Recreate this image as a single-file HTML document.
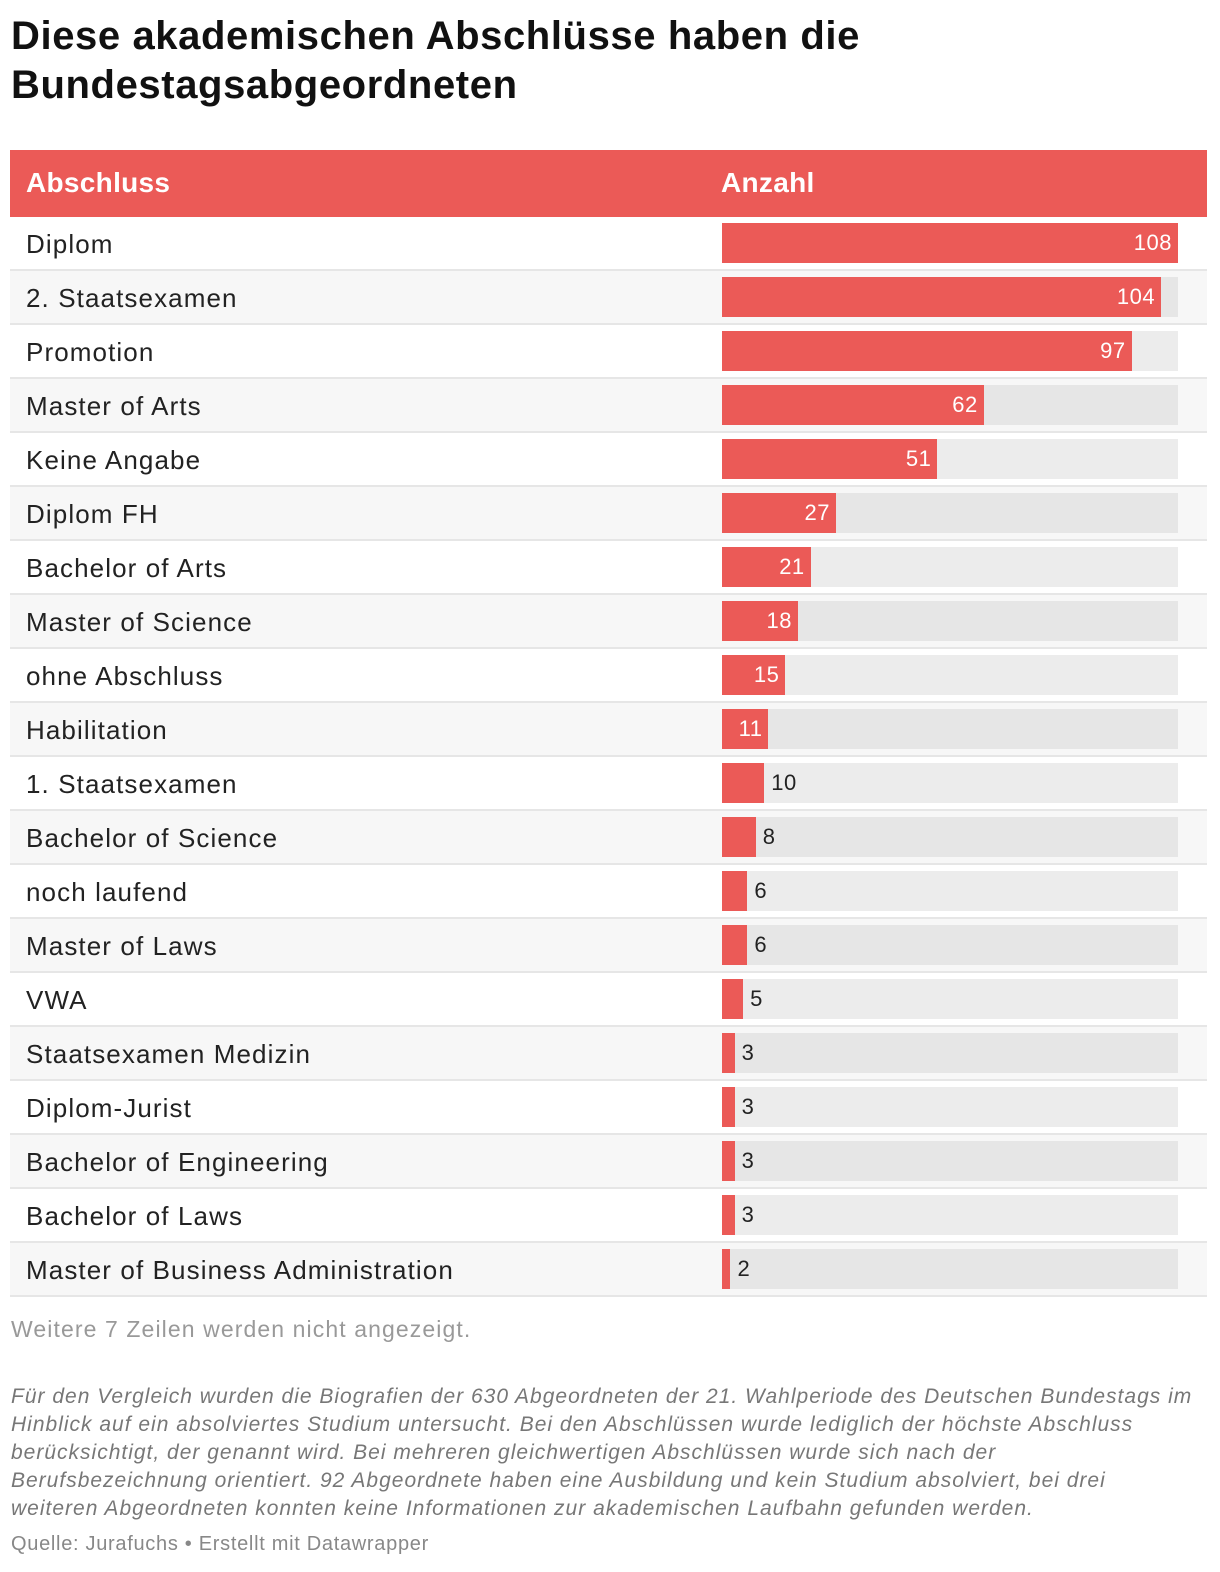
<!DOCTYPE html>
<html><head><meta charset="utf-8"><style>
body{margin:0;width:1220px;height:1572px;background:#fff;font-family:"Liberation Sans",sans-serif;position:relative;overflow:hidden}
h1{position:absolute;left:11px;top:12px;margin:0;font-size:40px;line-height:49px;font-weight:bold;color:#111;letter-spacing:0.6px}
#hdr{position:absolute;left:10px;top:150px;width:1197px;height:67px;background:#eb5a57}
#hdr span{position:absolute;top:17px;color:#fff;font-weight:bold;font-size:28px;letter-spacing:0.3px}
.row{position:absolute;left:10px;width:1197px;height:52px;border-bottom:2px solid #e6e6e6}
.row .lab{position:absolute;left:16px;top:12px;font-size:26px;color:#222;letter-spacing:1.1px}
.track{position:absolute;left:712px;top:6px;width:456px;height:40px;background:#ececec}
.row.alt{background:#f7f7f7}.row.alt .track{background:#e6e6e6}
.bar{position:absolute;left:0;top:0;height:40px;background:#eb5a57}
.val{position:absolute;top:7px;font-size:22px;letter-spacing:0.5px}
.note{position:absolute;left:11px;color:#777;font-size:21px;white-space:nowrap}
</style></head><body>
<h1>Diese akademischen Abschlüsse haben die<br>Bundestagsabgeordneten</h1>
<div id="hdr"><span style="left:16px">Abschluss</span><span style="left:711px">Anzahl</span></div>
<div id="rows"></div>
<div class="note" style="top:1316px;color:#999;font-size:23px;letter-spacing:1.1px">Weitere 7 Zeilen werden nicht angezeigt.</div>
<div class="note" style="top:1383px;font-style:italic;line-height:28px;letter-spacing:1.0px">Für den Vergleich wurden die Biografien der 630 Abgeordneten der 21. Wahlperiode des Deutschen Bundestags im<br>Hinblick auf ein absolviertes Studium untersucht. Bei den Abschlüssen wurde lediglich der höchste Abschluss<br>berücksichtigt, der genannt wird. Bei mehreren gleichwertigen Abschlüssen wurde sich nach der<br>Berufsbezeichnung orientiert. 92 Abgeordnete haben eine Ausbildung und kein Studium absolviert, bei drei<br>weiteren Abgeordneten konnten keine Informationen zur akademischen Laufbahn gefunden werden.</div>
<div class="note" style="top:1533px;font-size:20px;color:#888;letter-spacing:0.7px">Quelle: Jurafuchs • Erstellt mit Datawrapper</div>
<script>
const categories=["Diplom","2. Staatsexamen","Promotion","Master of Arts","Keine Angabe","Diplom FH","Bachelor of Arts","Master of Science","ohne Abschluss","Habilitation","1. Staatsexamen","Bachelor of Science","noch laufend","Master of Laws","VWA","Staatsexamen Medizin","Diplom-Jurist","Bachelor of Engineering","Bachelor of Laws","Master of Business Administration"];
const values=[108,104,97,62,51,27,21,18,15,11,10,8,6,6,5,3,3,3,3,2];
const maxVal=108;
const c=document.getElementById('rows');
const x=v=>v/maxVal*456;
categories.forEach((cat,i)=>{
 const r=document.createElement('div');r.className='row'+(i%2?' alt':'');r.style.top=(217+i*54)+'px';
 
 
 const l=document.createElement('span');l.className='lab';l.textContent=cat;
 
 
 const t=document.createElement('div');t.className='track';
 
 
 const b=document.createElement('div');b.className='bar';const w=x(values[i]);b.style.width=w+'px';
 
 
 const v=document.createElement('span');v.className='val';v.textContent=values[i];
 
 
 if(w>44){v.style.right=(456-w+6)+'px';v.style.color='#fff';}else{v.style.left=(w+7)+'px';v.style.color='#222';}
 t.appendChild(b);t.appendChild(v);r.appendChild(l);r.appendChild(t);c.appendChild(r);
});
</script>
</body></html>
